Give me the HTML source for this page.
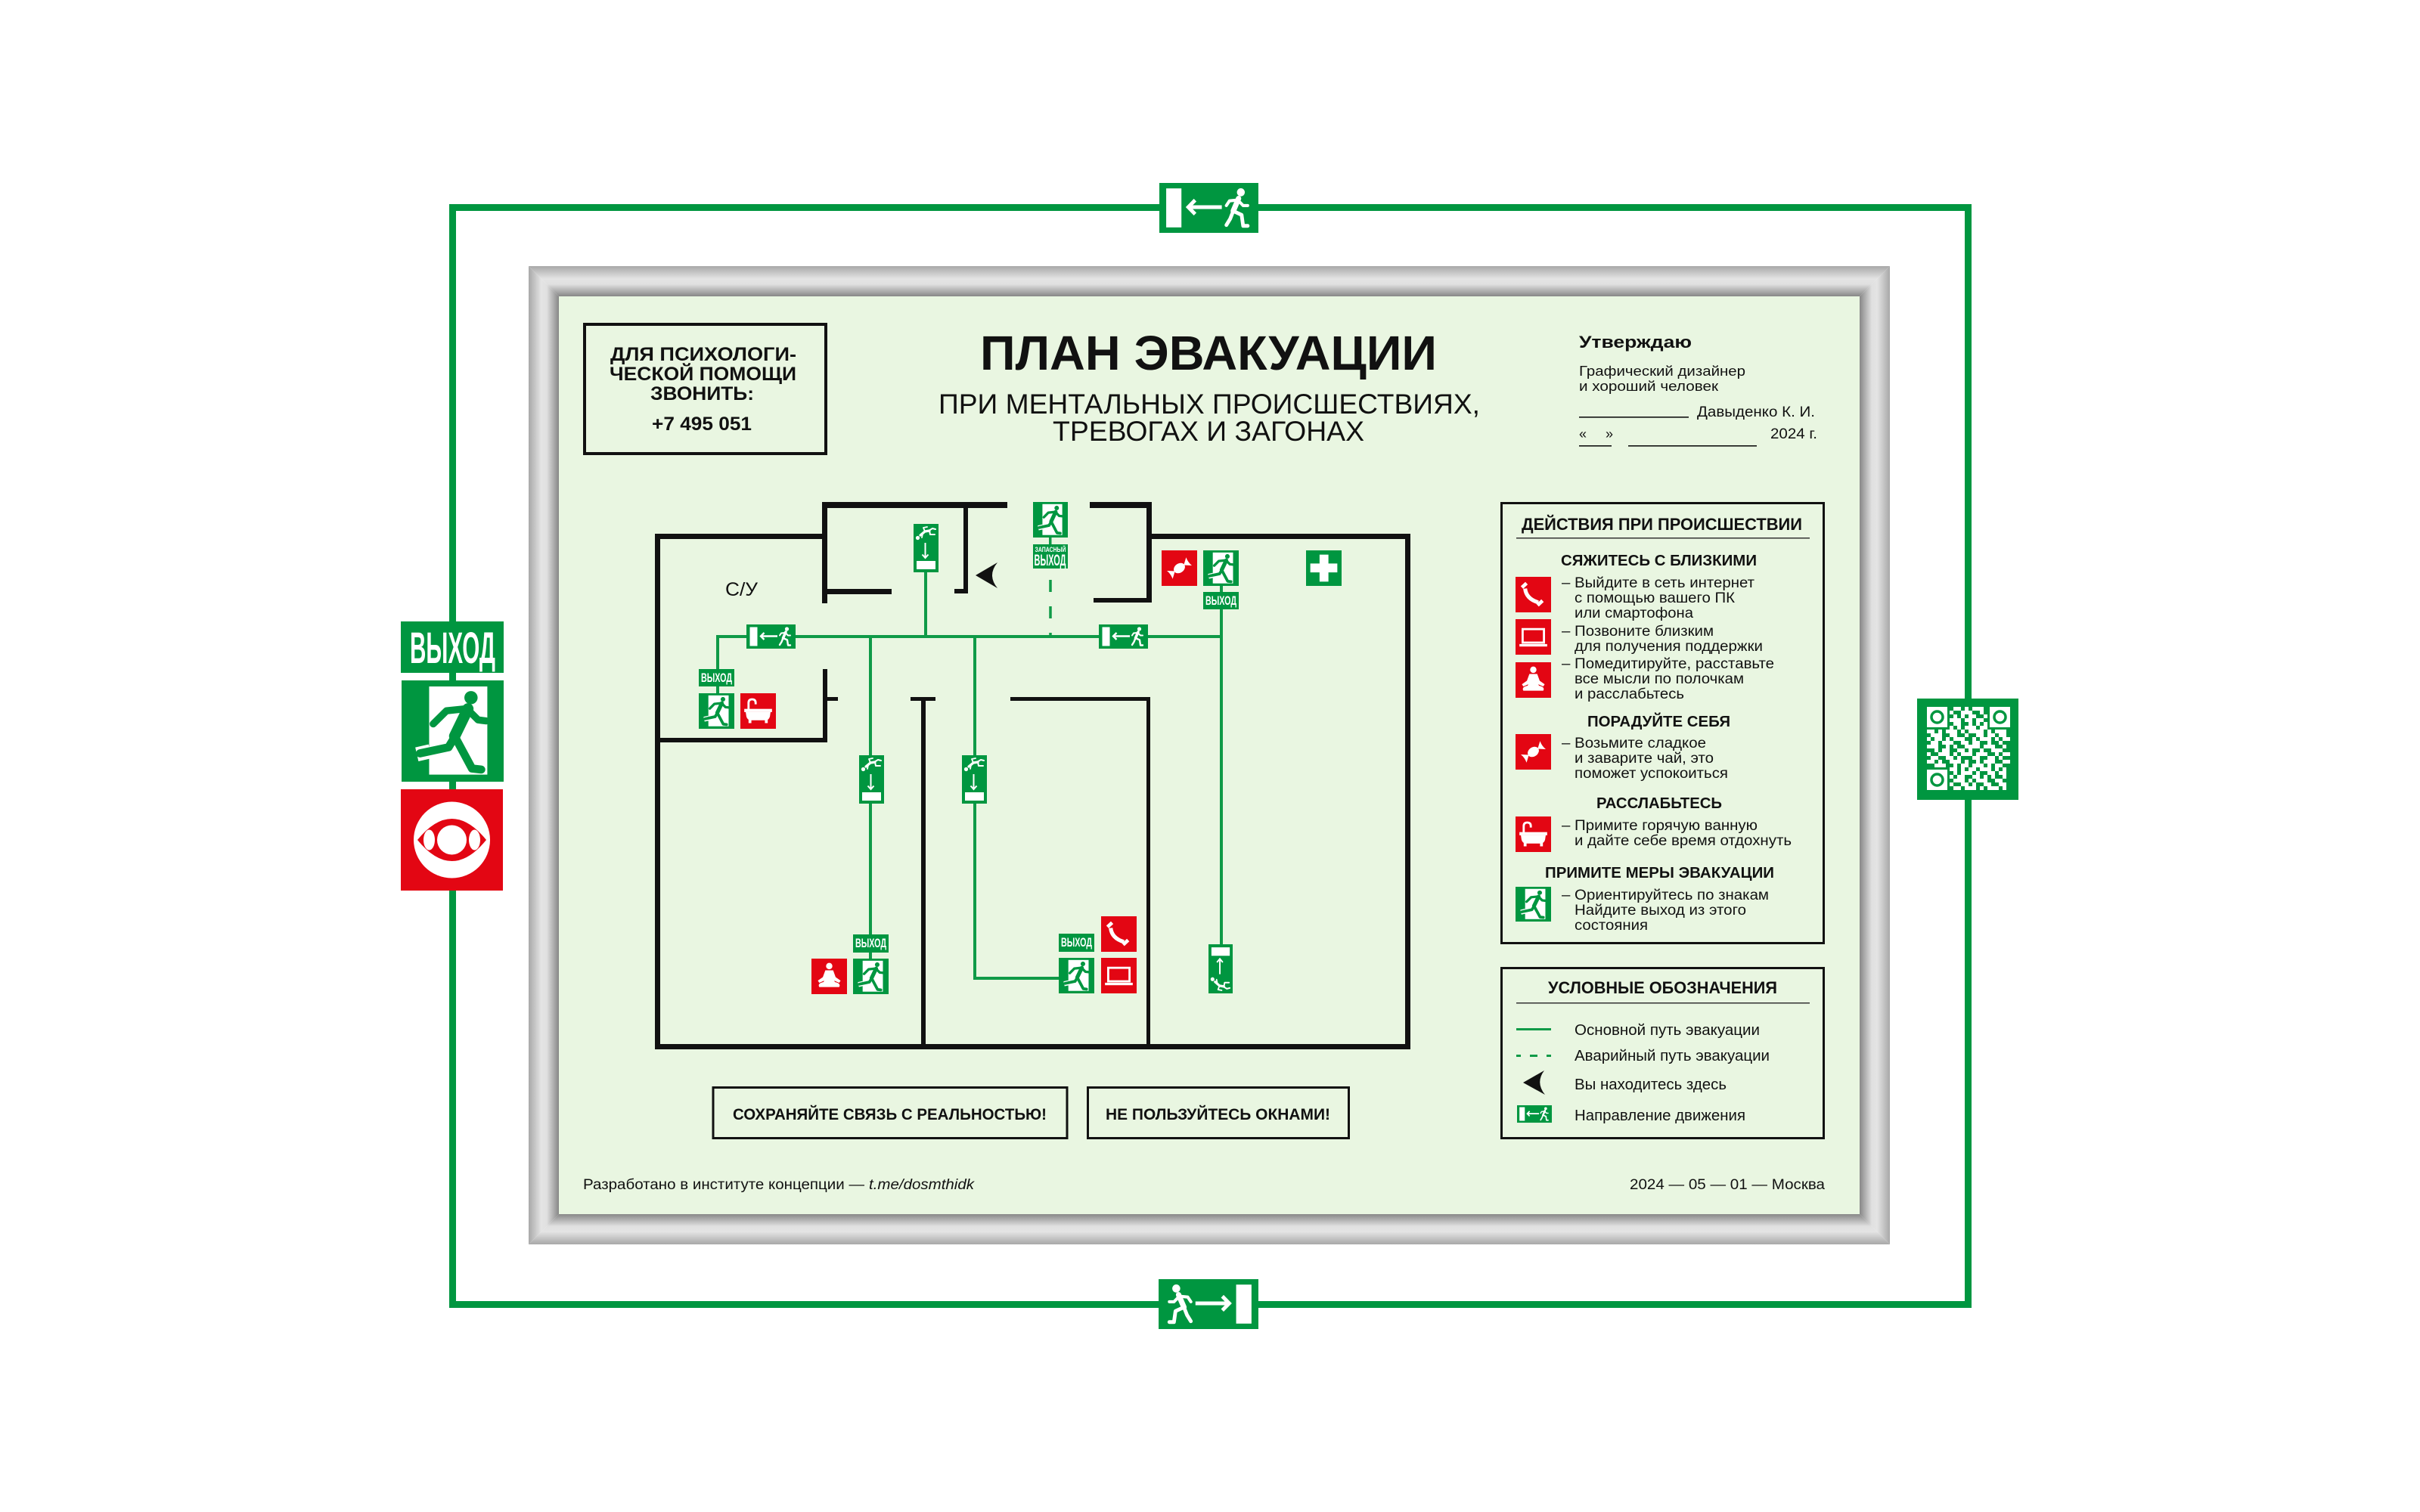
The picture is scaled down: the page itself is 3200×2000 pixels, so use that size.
<!DOCTYPE html>
<html><head><meta charset="utf-8"><style>
html,body{margin:0;padding:0;background:#fff;}
svg{display:block}
text{font-family:"Liberation Sans","DejaVu Sans",Arial,sans-serif;fill:#111}
.b{font-weight:bold}
.w{fill:#fff}
</style></head><body>
<svg xmlns="http://www.w3.org/2000/svg" width="3200" height="2000" viewBox="0 0 3200 2000">
<defs>
<linearGradient id="gt" x1="0" y1="0" x2="0" y2="1"><stop offset="0" stop-color="#a8a8a8"/><stop offset="0.12" stop-color="#b9b9b9"/><stop offset="0.42" stop-color="#e4e4e4"/><stop offset="0.6" stop-color="#e0e0e0"/><stop offset="1" stop-color="#878787"/></linearGradient>
<linearGradient id="gb" x1="0" y1="1" x2="0" y2="0"><stop offset="0" stop-color="#a8a8a8"/><stop offset="0.12" stop-color="#b9b9b9"/><stop offset="0.42" stop-color="#e4e4e4"/><stop offset="0.6" stop-color="#e0e0e0"/><stop offset="1" stop-color="#878787"/></linearGradient>
<linearGradient id="gl" x1="0" y1="0" x2="1" y2="0"><stop offset="0" stop-color="#a8a8a8"/><stop offset="0.12" stop-color="#b9b9b9"/><stop offset="0.42" stop-color="#e4e4e4"/><stop offset="0.6" stop-color="#e0e0e0"/><stop offset="1" stop-color="#878787"/></linearGradient>
<linearGradient id="gr" x1="1" y1="0" x2="0" y2="0"><stop offset="0" stop-color="#a8a8a8"/><stop offset="0.12" stop-color="#b9b9b9"/><stop offset="0.42" stop-color="#e4e4e4"/><stop offset="0.6" stop-color="#e0e0e0"/><stop offset="1" stop-color="#878787"/></linearGradient>
</defs>
<rect width="3200" height="2000" fill="#fff"/>

<!-- outer green frame -->
<g fill="#009640">
<rect x="594" y="270" width="2013" height="9"/>
<rect x="594" y="1721" width="2013" height="9"/>
<rect x="594" y="270" width="9" height="1460"/>
<rect x="2598" y="270" width="9" height="1460"/>
</g>

<!-- gray frame -->
<polygon points="699,352 2499,352 2459,392 739,392" fill="url(#gt)"/>
<polygon points="739,1606 2459,1606 2499,1646 699,1646" fill="url(#gb)"/>
<polygon points="699,352 739,392 739,1606 699,1646" fill="url(#gl)"/>
<polygon points="2499,352 2459,392 2459,1606 2499,1646" fill="url(#gr)"/>
<rect x="739" y="392" width="1720" height="1214" fill="#e9f6e1"/>

<!-- top sign -->
<g transform="translate(1533,242) scale(2.015,2.0625)">
<rect width="65" height="32" fill="#009640"/><rect x="4.5" y="3.5" width="10" height="25" fill="#fff"/>
<g stroke="#fff" fill="none" stroke-width="2.4"><path d="M19 15.5 H41"/><path d="M23.5 11 L19 15.5 L23.5 20"/></g>
<g stroke="#fff" fill="none" stroke-linecap="round" stroke-linejoin="round"><path d="M52 10 L48.5 18" stroke-width="3.5"/><path d="M51 11 L46 11.5 L44 14.5" stroke-width="2"/><path d="M52 11.5 L55 14.5 L58 14.5" stroke-width="2"/><path d="M48.5 18 L46.5 23 L44 27" stroke-width="2.4"/><path d="M48.5 18 L54 20.5 L55 27.5 L58 27.5" stroke-width="2.4"/></g><circle cx="53.5" cy="6" r="2.6" fill="#fff"/>
</g>
<!-- bottom sign (mirrored) -->
<g transform="translate(1664,1692) scale(-2.03,2.0625)">
<rect width="65" height="32" fill="#009640"/><rect x="4.5" y="3.5" width="10" height="25" fill="#fff"/>
<g stroke="#fff" fill="none" stroke-width="2.4"><path d="M19 15.5 H41"/><path d="M23.5 11 L19 15.5 L23.5 20"/></g>
<g stroke="#fff" fill="none" stroke-linecap="round" stroke-linejoin="round"><path d="M52 10 L48.5 18" stroke-width="3.5"/><path d="M51 11 L46 11.5 L44 14.5" stroke-width="2"/><path d="M52 11.5 L55 14.5 L58 14.5" stroke-width="2"/><path d="M48.5 18 L46.5 23 L44 27" stroke-width="2.4"/><path d="M48.5 18 L54 20.5 L55 27.5 L58 27.5" stroke-width="2.4"/></g><circle cx="53.5" cy="6" r="2.6" fill="#fff"/>
</g>

<!-- left big signs -->
<rect x="530" y="822" width="136" height="68" fill="#009640"/>
<text class="b w" x="542" y="877" font-size="58" textLength="113" lengthAdjust="spacingAndGlyphs">ВЫХОД</text>
<g transform="translate(531,900) scale(1.35,1.34)">
<rect width="100" height="100" fill="#009640"/><rect x="27" y="6" width="57" height="87" fill="#fff"/><path d="M28 70 L15 73" stroke="#fff" stroke-width="14"/><g fill="none" stroke="#009640" stroke-linecap="round" stroke-linejoin="round"><path d="M65 28 L52 55" stroke-width="11"/><path d="M63 28 L44 30 L31 43" stroke-width="7"/><path d="M67 31 L75 39 L83 40" stroke-width="7"/><path d="M52 56 L46 66 L18 72" stroke-width="8"/><path d="M53 57 L69 87 L78 88" stroke-width="8"/></g><circle cx="68" cy="17" r="6.5" fill="#009640"/>
</g>
<rect x="530" y="1044" width="135" height="134" fill="#e30613"/>
<circle cx="597.5" cy="1111" r="50.5" fill="#fff"/>
<path d="M552 1111 Q597.5 1055 643 1111 Q597.5 1167 552 1111Z" fill="#e30613"/>
<circle cx="597.5" cy="1111" r="19.5" fill="#fff"/>
<ellipse cx="567.5" cy="1111" rx="7.5" ry="13.5" fill="#fff"/>
<ellipse cx="627.5" cy="1111" rx="7.5" ry="13.5" fill="#fff"/>

<!-- QR -->
<rect x="2535" y="924" width="134" height="134" fill="#009640"/>
<path fill="#fff" d="M2583 935h10v5h-10zM2598 935h5v5h-5zM2608 935h15v5h-15zM2578 940h5v5h-5zM2593 940h15v5h-15zM2618 940h5v5h-5zM2583 945h5v5h-5zM2593 945h5v5h-5zM2603 945h10v5h-10zM2623 945h5v5h-5zM2578 950h15v5h-15zM2598 950h10v5h-10zM2613 950h10v5h-10zM2583 955h10v5h-10zM2603 955h5v5h-5zM2613 955h5v5h-5zM2623 955h5v5h-5zM2578 960h5v5h-5zM2588 960h5v5h-5zM2598 960h15v5h-15zM2618 960h10v5h-10zM2548 965h10v5h-10zM2563 965h5v5h-5zM2573 965h15v5h-15zM2593 965h5v5h-5zM2603 965h20v5h-20zM2628 965h5v5h-5zM2638 965h15v5h-15zM2553 970h15v5h-15zM2578 970h10v5h-10zM2598 970h5v5h-5zM2613 970h10v5h-10zM2628 970h10v5h-10zM2643 970h10v5h-10zM2548 975h5v5h-5zM2558 975h10v5h-10zM2573 975h5v5h-5zM2583 975h15v5h-15zM2608 975h5v5h-5zM2618 975h15v5h-15zM2638 975h5v5h-5zM2648 975h10v5h-10zM2553 980h10v5h-10zM2568 980h15v5h-15zM2593 980h10v5h-10zM2608 980h10v5h-10zM2628 980h5v5h-5zM2643 980h5v5h-5zM2548 985h15v5h-15zM2573 985h5v5h-5zM2583 985h5v5h-5zM2598 985h20v5h-20zM2623 985h15v5h-15zM2648 985h5v5h-5zM2558 990h5v5h-5zM2568 990h10v5h-10zM2588 990h10v5h-10zM2603 990h5v5h-5zM2618 990h5v5h-5zM2633 990h15v5h-15zM2548 995h5v5h-5zM2563 995h15v5h-15zM2583 995h5v5h-5zM2593 995h15v5h-15zM2613 995h15v5h-15zM2638 995h5v5h-5zM2648 995h10v5h-10zM2553 1000h10v5h-10zM2573 1000h10v5h-10zM2588 1000h5v5h-5zM2608 1000h10v5h-10zM2628 1000h10v5h-10zM2643 1000h5v5h-5zM2548 1005h10v5h-10zM2563 1005h5v5h-5zM2578 1005h15v5h-15zM2598 1005h5v5h-5zM2613 1005h5v5h-5zM2623 1005h15v5h-15zM2648 1005h10v5h-10zM2558 1010h15v5h-15zM2583 1010h5v5h-5zM2593 1010h10v5h-10zM2608 1010h15v5h-15zM2628 1010h5v5h-5zM2638 1010h10v5h-10zM2578 1015h10v5h-10zM2593 1015h5v5h-5zM2603 1015h10v5h-10zM2618 1015h15v5h-15zM2638 1015h5v5h-5zM2648 1015h5v5h-5zM2583 1020h5v5h-5zM2593 1020h15v5h-15zM2613 1020h5v5h-5zM2628 1020h10v5h-10zM2643 1020h10v5h-10zM2578 1025h5v5h-5zM2588 1025h10v5h-10zM2608 1025h10v5h-10zM2623 1025h5v5h-5zM2633 1025h5v5h-5zM2648 1025h5v5h-5zM2583 1030h15v5h-15zM2603 1030h5v5h-5zM2613 1030h15v5h-15zM2638 1030h10v5h-10zM2578 1035h5v5h-5zM2593 1035h10v5h-10zM2608 1035h5v5h-5zM2623 1035h10v5h-10zM2643 1035h10v5h-10zM2583 1040h10v5h-10zM2598 1040h15v5h-15zM2618 1040h5v5h-5zM2628 1040h15v5h-15zM2648 1040h5v5h-5z"/>
<rect x="2548" y="935" width="27" height="27" fill="#fff"/>
<rect x="2631" y="935" width="27" height="27" fill="#fff"/>
<rect x="2548" y="1018" width="27" height="27" fill="#fff"/>
<g fill="none" stroke="#009640" stroke-width="3.5">
<circle cx="2561.5" cy="948.5" r="7.5"/><circle cx="2644.5" cy="948.5" r="7.5"/><circle cx="2561.5" cy="1031.5" r="7.5"/>
</g>

<!-- header box -->
<rect x="773" y="429" width="319" height="171" fill="none" stroke="#111" stroke-width="4"/>
<text class="b" x="807" y="477" font-size="25" textLength="246" lengthAdjust="spacingAndGlyphs">ДЛЯ ПСИХОЛОГИ-</text>
<text class="b" x="806" y="503" font-size="25" textLength="247" lengthAdjust="spacingAndGlyphs">ЧЕСКОЙ ПОМОЩИ</text>
<text class="b" x="860" y="529" font-size="25" textLength="137" lengthAdjust="spacingAndGlyphs">ЗВОНИТЬ:</text>
<text class="b" x="862" y="569" font-size="25" textLength="132" lengthAdjust="spacingAndGlyphs">+7 495 051</text>

<!-- title -->
<text class="b" x="1296" y="489" font-size="64" textLength="604" lengthAdjust="spacingAndGlyphs">ПЛАН ЭВАКУАЦИИ</text>
<text x="1241" y="547" font-size="37" textLength="716" lengthAdjust="spacingAndGlyphs">ПРИ МЕНТАЛЬНЫХ ПРОИСШЕСТВИЯХ,</text>
<text x="1392" y="583" font-size="37" textLength="412" lengthAdjust="spacingAndGlyphs">ТРЕВОГАХ И ЗАГОНАХ</text>

<!-- approval -->
<text class="b" x="2088" y="460" font-size="22" textLength="149" lengthAdjust="spacingAndGlyphs">Утверждаю</text>
<text x="2088" y="497" font-size="18" textLength="220" lengthAdjust="spacingAndGlyphs">Графический дизайнер</text>
<text x="2088" y="517" font-size="18" textLength="184" lengthAdjust="spacingAndGlyphs">и хороший человек</text>
<rect x="2088" y="551" width="145" height="1.6" fill="#111"/>
<text x="2244" y="551" font-size="19" textLength="156" lengthAdjust="spacingAndGlyphs">Давыденко К. И.</text>
<text x="2088" y="580" font-size="18">«</text>
<text x="2123" y="580" font-size="18">»</text>
<rect x="2088" y="589" width="43" height="1.6" fill="#111"/>
<rect x="2153" y="589" width="170" height="1.6" fill="#111"/>
<text x="2341" y="580" font-size="19" textLength="62" lengthAdjust="spacingAndGlyphs">2024 г.</text>

<!-- ===== FLOOR PLAN ===== -->
<g fill="#111">
<rect x="866" y="706" width="7" height="682"/>
<rect x="866" y="706" width="228" height="7"/>
<rect x="1087" y="664" width="7" height="134"/>
<rect x="1087" y="664" width="245" height="8"/>
<rect x="1274" y="664" width="6" height="121"/>
<rect x="1262" y="779" width="18" height="6"/>
<rect x="1094" y="779" width="85" height="7"/>
<rect x="1441" y="664" width="82" height="8"/>
<rect x="1516" y="664" width="7" height="133"/>
<rect x="1446" y="791" width="77" height="6"/>
<rect x="1516" y="706" width="349" height="7"/>
<rect x="1858" y="706" width="7" height="682"/>
<rect x="866" y="1381" width="999" height="7"/>
<rect x="1088" y="885" width="6" height="97"/>
<rect x="1094" y="922" width="14" height="5"/>
<rect x="866" y="976" width="228" height="6"/>
<rect x="1204" y="922" width="33" height="5"/>
<rect x="1218" y="922" width="6" height="466"/>
<rect x="1336" y="922" width="185" height="5"/>
<rect x="1516" y="922" width="5" height="466"/>
</g>

<!-- evacuation path -->
<g fill="#0f9a47">
<rect x="947" y="840" width="670" height="4"/>
<rect x="947" y="840" width="4" height="77"/>
<rect x="1222" y="757" width="4" height="85"/>
<rect x="1149" y="842" width="4" height="426"/>
<rect x="1287" y="842" width="4" height="454"/>
<rect x="1287" y="1292" width="113" height="4"/>
<rect x="1613" y="774" width="4" height="475"/>
<rect x="1387" y="711" width="3.5" height="9"/>
</g>
<line x1="1389" y1="767" x2="1389" y2="842" stroke="#0f9a47" stroke-width="3.5" stroke-dasharray="16 19"/>

<text x="959" y="788" font-size="25" textLength="43" lengthAdjust="spacingAndGlyphs">С/У</text>

<!-- you are here arrow -->
<path d="M1290 761 L1319 744 Q1305 761 1319 778 Z" fill="#111"/>

<!-- direction signs horizontal -->
<g transform="translate(987,826)">
<rect width="65" height="32" fill="#009640"/><rect x="4.5" y="3.5" width="10" height="25" fill="#fff"/>
<g stroke="#fff" fill="none" stroke-width="2.4"><path d="M19 15.5 H41"/><path d="M23.5 11 L19 15.5 L23.5 20"/></g>
<g stroke="#fff" fill="none" stroke-linecap="round" stroke-linejoin="round"><path d="M52 10 L48.5 18" stroke-width="3.5"/><path d="M51 11 L46 11.5 L44 14.5" stroke-width="2"/><path d="M52 11.5 L55 14.5 L58 14.5" stroke-width="2"/><path d="M48.5 18 L46.5 23 L44 27" stroke-width="2.4"/><path d="M48.5 18 L54 20.5 L55 27.5 L58 27.5" stroke-width="2.4"/></g><circle cx="53.5" cy="6" r="2.6" fill="#fff"/>
</g>
<g transform="translate(1453,826)">
<rect width="65" height="32" fill="#009640"/><rect x="4.5" y="3.5" width="10" height="25" fill="#fff"/>
<g stroke="#fff" fill="none" stroke-width="2.4"><path d="M19 15.5 H41"/><path d="M23.5 11 L19 15.5 L23.5 20"/></g>
<g stroke="#fff" fill="none" stroke-linecap="round" stroke-linejoin="round"><path d="M52 10 L48.5 18" stroke-width="3.5"/><path d="M51 11 L46 11.5 L44 14.5" stroke-width="2"/><path d="M52 11.5 L55 14.5 L58 14.5" stroke-width="2"/><path d="M48.5 18 L46.5 23 L44 27" stroke-width="2.4"/><path d="M48.5 18 L54 20.5 L55 27.5 L58 27.5" stroke-width="2.4"/></g><circle cx="53.5" cy="6" r="2.6" fill="#fff"/>
</g>

<!-- vertical direction signs (down) -->
<g transform="translate(1208,693)">
<rect width="33" height="64" fill="#009640"/><rect x="4" y="49" width="25" height="11" fill="#fff"/>
<g stroke="#fff" fill="none" stroke-width="2"><path d="M15.5 25 V45"/><path d="M11.5 40.5 L15.5 45 L19.5 40.5"/></g>
<circle cx="5.5" cy="18.5" r="2.6" fill="#fff"/>
<g stroke="#fff" fill="none" stroke-linecap="round" stroke-linejoin="round"><path d="M9 15 L15 10 L21 9" stroke-width="3.2"/><path d="M15 10 L13 5 L18 4" stroke-width="1.8"/><path d="M12 13 L11 18" stroke-width="1.8"/><path d="M21 9 L22 14 L28 14" stroke-width="2"/><path d="M20 9 L25 6 L29 7" stroke-width="2"/></g>
</g>
<g transform="translate(1136,999)">
<rect width="33" height="64" fill="#009640"/><rect x="4" y="49" width="25" height="11" fill="#fff"/>
<g stroke="#fff" fill="none" stroke-width="2"><path d="M15.5 25 V45"/><path d="M11.5 40.5 L15.5 45 L19.5 40.5"/></g>
<circle cx="5.5" cy="18.5" r="2.6" fill="#fff"/>
<g stroke="#fff" fill="none" stroke-linecap="round" stroke-linejoin="round"><path d="M9 15 L15 10 L21 9" stroke-width="3.2"/><path d="M15 10 L13 5 L18 4" stroke-width="1.8"/><path d="M12 13 L11 18" stroke-width="1.8"/><path d="M21 9 L22 14 L28 14" stroke-width="2"/><path d="M20 9 L25 6 L29 7" stroke-width="2"/></g>
</g>
<g transform="translate(1272,999)">
<rect width="33" height="64" fill="#009640"/><rect x="4" y="49" width="25" height="11" fill="#fff"/>
<g stroke="#fff" fill="none" stroke-width="2"><path d="M15.5 25 V45"/><path d="M11.5 40.5 L15.5 45 L19.5 40.5"/></g>
<circle cx="5.5" cy="18.5" r="2.6" fill="#fff"/>
<g stroke="#fff" fill="none" stroke-linecap="round" stroke-linejoin="round"><path d="M9 15 L15 10 L21 9" stroke-width="3.2"/><path d="M15 10 L13 5 L18 4" stroke-width="1.8"/><path d="M12 13 L11 18" stroke-width="1.8"/><path d="M21 9 L22 14 L28 14" stroke-width="2"/><path d="M20 9 L25 6 L29 7" stroke-width="2"/></g>
</g>
<!-- vertical sign (up) -->
<g transform="translate(1598,1314) scale(0.97,-1.015)">
<rect width="33" height="64" fill="#009640"/><rect x="4" y="49" width="25" height="11" fill="#fff"/>
<g stroke="#fff" fill="none" stroke-width="2"><path d="M15.5 25 V45"/><path d="M11.5 40.5 L15.5 45 L19.5 40.5"/></g>
<circle cx="5.5" cy="18.5" r="2.6" fill="#fff"/>
<g stroke="#fff" fill="none" stroke-linecap="round" stroke-linejoin="round"><path d="M9 15 L15 10 L21 9" stroke-width="3.2"/><path d="M15 10 L13 5 L18 4" stroke-width="1.8"/><path d="M12 13 L11 18" stroke-width="1.8"/><path d="M21 9 L22 14 L28 14" stroke-width="2"/><path d="M20 9 L25 6 L29 7" stroke-width="2"/></g>
</g>

<!-- ЗАПАСНЫЙ ВЫХОД -->
<g transform="translate(1366,664) scale(0.46,0.47)">
<rect width="100" height="100" fill="#009640"/><rect x="27" y="6" width="57" height="87" fill="#fff"/><path d="M28 70 L15 73" stroke="#fff" stroke-width="14"/><g fill="none" stroke="#009640" stroke-linecap="round" stroke-linejoin="round"><path d="M65 28 L52 55" stroke-width="11"/><path d="M63 28 L44 30 L31 43" stroke-width="7"/><path d="M67 31 L75 39 L83 40" stroke-width="7"/><path d="M52 56 L46 66 L18 72" stroke-width="8"/><path d="M53 57 L69 87 L78 88" stroke-width="8"/></g><circle cx="68" cy="17" r="6.5" fill="#009640"/>
</g>
<rect x="1366" y="720" width="46" height="32" fill="#009640"/>
<text class="b w" x="1368.5" y="730" font-size="9" textLength="41" lengthAdjust="spacingAndGlyphs">ЗАПАСНЫЙ</text>
<text class="b w" x="1367.5" y="748" font-size="21" textLength="42" lengthAdjust="spacingAndGlyphs">ВЫХОД</text>

<!-- left room signs -->
<rect x="924" y="885" width="47" height="23" fill="#009640"/>
<text class="b w" x="927" y="902" font-size="17" textLength="41" lengthAdjust="spacingAndGlyphs">ВЫХОД</text>
<g transform="translate(924,917) scale(0.47)">
<rect width="100" height="100" fill="#009640"/><rect x="27" y="6" width="57" height="87" fill="#fff"/><path d="M28 70 L15 73" stroke="#fff" stroke-width="14"/><g fill="none" stroke="#009640" stroke-linecap="round" stroke-linejoin="round"><path d="M65 28 L52 55" stroke-width="11"/><path d="M63 28 L44 30 L31 43" stroke-width="7"/><path d="M67 31 L75 39 L83 40" stroke-width="7"/><path d="M52 56 L46 66 L18 72" stroke-width="8"/><path d="M53 57 L69 87 L78 88" stroke-width="8"/></g><circle cx="68" cy="17" r="6.5" fill="#009640"/>
</g>
<g transform="translate(979,917) scale(0.47)">
<rect width="100" height="100" fill="#e30613"/><path d="M23 46 V27 Q23 17 33 17 Q43 17 43 27 V31" fill="none" stroke="#fff" stroke-width="6"/><rect x="11" y="44" width="78" height="9" fill="#fff"/><path d="M15 53 H85 L83 66 Q80 76 70 76 H30 Q20 76 17 66 Z" fill="#fff"/><rect x="23" y="74" width="8" height="10" fill="#fff"/><rect x="69" y="74" width="8" height="10" fill="#fff"/>
</g>

<!-- top right room signs -->
<g transform="translate(1536,728) scale(0.47)">
<rect width="100" height="100" fill="#e30613"/><g transform="rotate(-35 50 50)" fill="#fff"><ellipse cx="50" cy="50" rx="17" ry="13"/><path d="M35 50 L17 36 Q21 50 17 64 Z"/><path d="M65 50 L83 36 Q79 50 83 64 Z"/></g>
</g>
<g transform="translate(1591,728) scale(0.47)">
<rect width="100" height="100" fill="#009640"/><rect x="27" y="6" width="57" height="87" fill="#fff"/><path d="M28 70 L15 73" stroke="#fff" stroke-width="14"/><g fill="none" stroke="#009640" stroke-linecap="round" stroke-linejoin="round"><path d="M65 28 L52 55" stroke-width="11"/><path d="M63 28 L44 30 L31 43" stroke-width="7"/><path d="M67 31 L75 39 L83 40" stroke-width="7"/><path d="M52 56 L46 66 L18 72" stroke-width="8"/><path d="M53 57 L69 87 L78 88" stroke-width="8"/></g><circle cx="68" cy="17" r="6.5" fill="#009640"/>
</g>
<rect x="1591" y="783" width="47" height="23" fill="#009640"/>
<text class="b w" x="1594" y="800" font-size="17" textLength="41" lengthAdjust="spacingAndGlyphs">ВЫХОД</text>
<g transform="translate(1727,728) scale(0.47)">
<rect width="100" height="100" fill="#009640"/><rect x="38" y="12" width="25" height="76" fill="#fff"/><rect x="12" y="37" width="76" height="25" fill="#fff"/>
</g>

<!-- bottom left signs -->
<g transform="translate(1073,1268) scale(0.47)">
<rect width="100" height="100" fill="#e30613"/><circle cx="50" cy="21" r="9" fill="#fff"/><path d="M39 33 H61 L68 52 L82 62 L78 68 L64 62 L66 66 Q84 70 78 80 H22 Q16 70 34 66 L36 62 L22 68 L18 62 L32 52 Z" fill="#fff"/>
</g>
<rect x="1128" y="1236" width="47" height="24" fill="#009640"/>
<text class="b w" x="1131" y="1253" font-size="17" textLength="41" lengthAdjust="spacingAndGlyphs">ВЫХОД</text>
<g transform="translate(1128,1268) scale(0.47)">
<rect width="100" height="100" fill="#009640"/><rect x="27" y="6" width="57" height="87" fill="#fff"/><path d="M28 70 L15 73" stroke="#fff" stroke-width="14"/><g fill="none" stroke="#009640" stroke-linecap="round" stroke-linejoin="round"><path d="M65 28 L52 55" stroke-width="11"/><path d="M63 28 L44 30 L31 43" stroke-width="7"/><path d="M67 31 L75 39 L83 40" stroke-width="7"/><path d="M52 56 L46 66 L18 72" stroke-width="8"/><path d="M53 57 L69 87 L78 88" stroke-width="8"/></g><circle cx="68" cy="17" r="6.5" fill="#009640"/>
</g>

<!-- bottom middle signs -->
<rect x="1400" y="1235" width="47" height="24" fill="#009640"/>
<text class="b w" x="1403" y="1252" font-size="17" textLength="41" lengthAdjust="spacingAndGlyphs">ВЫХОД</text>
<g transform="translate(1400,1267) scale(0.47)">
<rect width="100" height="100" fill="#009640"/><rect x="27" y="6" width="57" height="87" fill="#fff"/><path d="M28 70 L15 73" stroke="#fff" stroke-width="14"/><g fill="none" stroke="#009640" stroke-linecap="round" stroke-linejoin="round"><path d="M65 28 L52 55" stroke-width="11"/><path d="M63 28 L44 30 L31 43" stroke-width="7"/><path d="M67 31 L75 39 L83 40" stroke-width="7"/><path d="M52 56 L46 66 L18 72" stroke-width="8"/><path d="M53 57 L69 87 L78 88" stroke-width="8"/></g><circle cx="68" cy="17" r="6.5" fill="#009640"/>
</g>
<g transform="translate(1456,1212) scale(0.47)">
<rect width="100" height="100" fill="#e30613"/><g fill="none" stroke="#fff"><path d="M27 33 Q30 62 64 72" stroke-width="11"/><path d="M18 30 L31 18" stroke-width="10"/><path d="M62 80 L76 67" stroke-width="10"/></g>
</g>
<g transform="translate(1456,1267) scale(0.47)">
<rect width="100" height="100" fill="#e30613"/><rect x="20" y="28" width="60" height="38" fill="none" stroke="#fff" stroke-width="6"/><rect x="11" y="70" width="78" height="7" fill="#fff"/>
</g>

<!-- ===== ACTIONS PANEL ===== -->
<rect x="1985.5" y="665.5" width="426" height="582" fill="none" stroke="#111" stroke-width="3"/>
<text class="b" x="2012" y="701" font-size="22" textLength="371" lengthAdjust="spacingAndGlyphs">ДЕЙСТВИЯ ПРИ ПРОИСШЕСТВИИ</text>
<rect x="2005" y="711" width="388" height="1.5" fill="#333"/>
<text class="b" x="2064" y="748" font-size="20" textLength="259" lengthAdjust="spacingAndGlyphs">СЯЖИТЕСЬ С БЛИЗКИМИ</text>
<text x="2065" y="777" font-size="19" textLength="255" lengthAdjust="spacingAndGlyphs">– Выйдите в сеть интернет</text>
<text x="2082" y="797" font-size="19" textLength="212" lengthAdjust="spacingAndGlyphs">с помощью вашего ПК</text>
<text x="2082" y="817" font-size="19" textLength="157" lengthAdjust="spacingAndGlyphs">или смартофона</text>
<text x="2065" y="841" font-size="19" textLength="201" lengthAdjust="spacingAndGlyphs">– Позвоните близким</text>
<text x="2082" y="861" font-size="19" textLength="249" lengthAdjust="spacingAndGlyphs">для получения поддержки</text>
<text x="2065" y="884" font-size="19" textLength="281" lengthAdjust="spacingAndGlyphs">– Помедитируйте, расставьте</text>
<text x="2082" y="904" font-size="19" textLength="224" lengthAdjust="spacingAndGlyphs">все мысли по полочкам</text>
<text x="2082" y="924" font-size="19" textLength="145" lengthAdjust="spacingAndGlyphs">и расслабьтесь</text>
<text class="b" x="2099" y="961" font-size="20" textLength="189" lengthAdjust="spacingAndGlyphs">ПОРАДУЙТЕ СЕБЯ</text>
<text x="2065" y="989" font-size="19" textLength="191" lengthAdjust="spacingAndGlyphs">– Возьмите сладкое</text>
<text x="2082" y="1009" font-size="19" textLength="184" lengthAdjust="spacingAndGlyphs">и заварите чай, это</text>
<text x="2082" y="1029" font-size="19" textLength="203" lengthAdjust="spacingAndGlyphs">поможет успокоиться</text>
<text class="b" x="2111" y="1069" font-size="20" textLength="166" lengthAdjust="spacingAndGlyphs">РАССЛАБЬТЕСЬ</text>
<text x="2065" y="1098" font-size="19" textLength="259" lengthAdjust="spacingAndGlyphs">– Примите горячую ванную</text>
<text x="2082" y="1118" font-size="19" textLength="287" lengthAdjust="spacingAndGlyphs">и дайте себе время отдохнуть</text>
<text class="b" x="2043" y="1161" font-size="20" textLength="303" lengthAdjust="spacingAndGlyphs">ПРИМИТЕ МЕРЫ ЭВАКУАЦИИ</text>
<text x="2065" y="1190" font-size="19" textLength="274" lengthAdjust="spacingAndGlyphs">– Ориентируйтесь по знакам</text>
<text x="2082" y="1210" font-size="19" textLength="227" lengthAdjust="spacingAndGlyphs">Найдите выход из этого</text>
<text x="2082" y="1230" font-size="19" textLength="97" lengthAdjust="spacingAndGlyphs">состояния</text>

<g transform="translate(2004,763) scale(0.47)">
<rect width="100" height="100" fill="#e30613"/><g fill="none" stroke="#fff"><path d="M27 33 Q30 62 64 72" stroke-width="11"/><path d="M18 30 L31 18" stroke-width="10"/><path d="M62 80 L76 67" stroke-width="10"/></g>
</g>
<g transform="translate(2004,819) scale(0.47)">
<rect width="100" height="100" fill="#e30613"/><rect x="20" y="28" width="60" height="38" fill="none" stroke="#fff" stroke-width="6"/><rect x="11" y="70" width="78" height="7" fill="#fff"/>
</g>
<g transform="translate(2004,876) scale(0.47)">
<rect width="100" height="100" fill="#e30613"/><circle cx="50" cy="21" r="9" fill="#fff"/><path d="M39 33 H61 L68 52 L82 62 L78 68 L64 62 L66 66 Q84 70 78 80 H22 Q16 70 34 66 L36 62 L22 68 L18 62 L32 52 Z" fill="#fff"/>
</g>
<g transform="translate(2004,971) scale(0.47)">
<rect width="100" height="100" fill="#e30613"/><g transform="rotate(-35 50 50)" fill="#fff"><ellipse cx="50" cy="50" rx="17" ry="13"/><path d="M35 50 L17 36 Q21 50 17 64 Z"/><path d="M65 50 L83 36 Q79 50 83 64 Z"/></g>
</g>
<g transform="translate(2004,1080) scale(0.47)">
<rect width="100" height="100" fill="#e30613"/><path d="M23 46 V27 Q23 17 33 17 Q43 17 43 27 V31" fill="none" stroke="#fff" stroke-width="6"/><rect x="11" y="44" width="78" height="9" fill="#fff"/><path d="M15 53 H85 L83 66 Q80 76 70 76 H30 Q20 76 17 66 Z" fill="#fff"/><rect x="23" y="74" width="8" height="10" fill="#fff"/><rect x="69" y="74" width="8" height="10" fill="#fff"/>
</g>
<g transform="translate(2004,1173) scale(0.47,0.46)">
<rect width="100" height="100" fill="#009640"/><rect x="27" y="6" width="57" height="87" fill="#fff"/><path d="M28 70 L15 73" stroke="#fff" stroke-width="14"/><g fill="none" stroke="#009640" stroke-linecap="round" stroke-linejoin="round"><path d="M65 28 L52 55" stroke-width="11"/><path d="M63 28 L44 30 L31 43" stroke-width="7"/><path d="M67 31 L75 39 L83 40" stroke-width="7"/><path d="M52 56 L46 66 L18 72" stroke-width="8"/><path d="M53 57 L69 87 L78 88" stroke-width="8"/></g><circle cx="68" cy="17" r="6.5" fill="#009640"/>
</g>

<!-- ===== LEGEND ===== -->
<rect x="1985.5" y="1280.5" width="426" height="225" fill="none" stroke="#111" stroke-width="3"/>
<text class="b" x="2047" y="1314" font-size="22" textLength="303" lengthAdjust="spacingAndGlyphs">УСЛОВНЫЕ ОБОЗНАЧЕНИЯ</text>
<rect x="2005" y="1326" width="388" height="1.5" fill="#333"/>
<rect x="2005" y="1360" width="46" height="3" fill="#0f9a47"/>
<g fill="#0f9a47"><rect x="2005" y="1395" width="6" height="3"/><rect x="2023" y="1395" width="10" height="3"/><rect x="2045" y="1395" width="6" height="3"/></g>
<path d="M2014 1432 L2042 1416 Q2030 1432 2043 1448 Z" fill="#111"/>
<g transform="translate(2006,1462) scale(0.708,0.72)">
<rect width="65" height="32" fill="#009640"/><rect x="4.5" y="3.5" width="10" height="25" fill="#fff"/>
<g stroke="#fff" fill="none" stroke-width="2.4"><path d="M19 15.5 H41"/><path d="M23.5 11 L19 15.5 L23.5 20"/></g>
<g stroke="#fff" fill="none" stroke-linecap="round" stroke-linejoin="round"><path d="M52 10 L48.5 18" stroke-width="3.5"/><path d="M51 11 L46 11.5 L44 14.5" stroke-width="2"/><path d="M52 11.5 L55 14.5 L58 14.5" stroke-width="2"/><path d="M48.5 18 L46.5 23 L44 27" stroke-width="2.4"/><path d="M48.5 18 L54 20.5 L55 27.5 L58 27.5" stroke-width="2.4"/></g><circle cx="53.5" cy="6" r="2.6" fill="#fff"/>
</g>
<text x="2082" y="1369" font-size="20" textLength="245" lengthAdjust="spacingAndGlyphs">Основной путь эвакуации</text>
<text x="2082" y="1403" font-size="20" textLength="258" lengthAdjust="spacingAndGlyphs">Аварийный путь эвакуации</text>
<text x="2082" y="1441" font-size="20" textLength="201" lengthAdjust="spacingAndGlyphs">Вы находитесь здесь</text>
<text x="2082" y="1482" font-size="20" textLength="226" lengthAdjust="spacingAndGlyphs">Направление движения</text>

<!-- buttons -->
<rect x="943" y="1438.5" width="468" height="67" fill="none" stroke="#111" stroke-width="3"/>
<text class="b" x="969" y="1481" font-size="21" textLength="415" lengthAdjust="spacingAndGlyphs">СОХРАНЯЙТЕ СВЯЗЬ С РЕАЛЬНОСТЬЮ!</text>
<rect x="1438.5" y="1438.5" width="345" height="67" fill="none" stroke="#111" stroke-width="3"/>
<text class="b" x="1462" y="1481" font-size="21" textLength="297" lengthAdjust="spacingAndGlyphs">НЕ ПОЛЬЗУЙТЕСЬ ОКНАМИ!</text>

<!-- footer -->
<text x="771" y="1573" font-size="19" textLength="372" lengthAdjust="spacingAndGlyphs">Разработано в институте концепции —</text>
<text x="1149" y="1573" font-size="19" font-style="italic" textLength="139" lengthAdjust="spacingAndGlyphs">t.me/dosmthidk</text>
<text x="2155" y="1573" font-size="19" textLength="258" lengthAdjust="spacingAndGlyphs">2024 — 05 — 01 — Москва</text>
</svg>
</body></html>
